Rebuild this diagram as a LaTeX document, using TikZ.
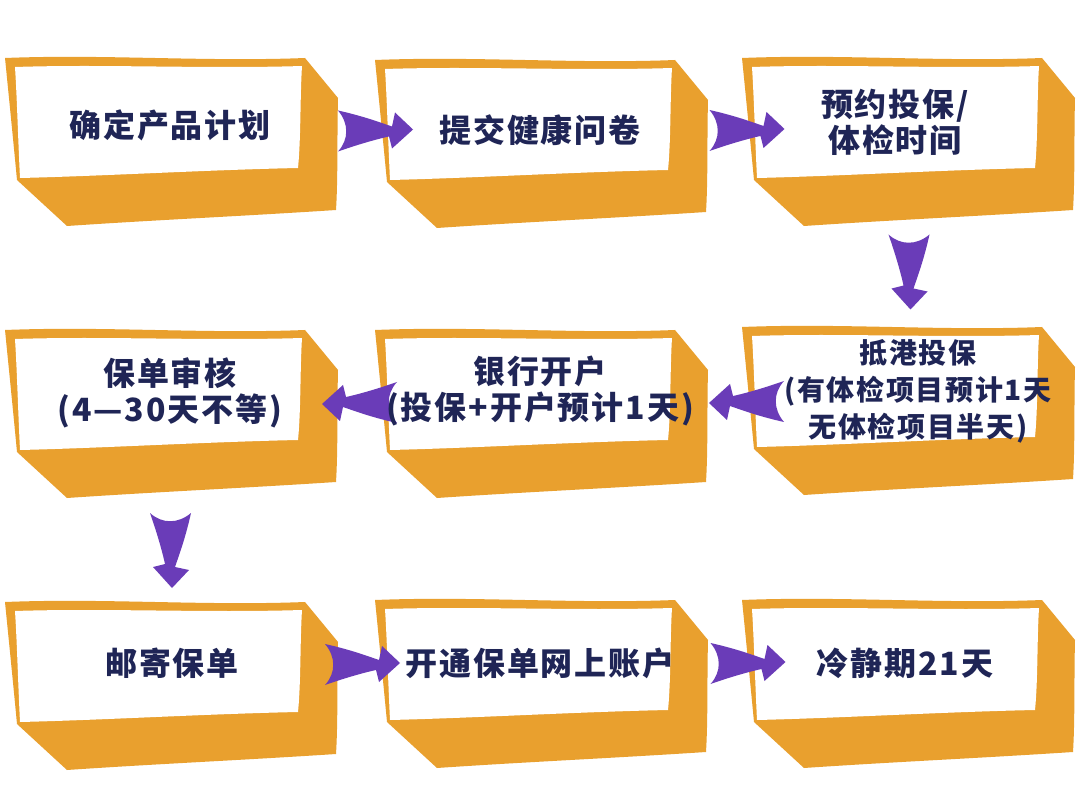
\documentclass[tikz,border=0pt]{standalone}
\usepackage{fontspec}
\newfontfamily\cjk{Noto Sans CJK SC}[LetterSpace=6]
\usetikzlibrary{calc}
\pgfdeclarelayer{back}
\pgfdeclarelayer{mid}
\pgfsetlayers{back,mid,main}
\definecolor{orng}{HTML}{E9A02E}
\definecolor{purp}{HTML}{6A3CB8}
\definecolor{navy}{HTML}{1F2556}
\tikzset{
  boxtext/.style={font=\cjk\bfseries\fontsize{32}{36}\selectfont, text=navy, align=center, inner sep=0pt},
  smalltext/.style={boxtext, font=\cjk\bfseries\fontsize{28}{37}\selectfont},
  cube/.pic={
    \fill[orng] (0,0) .. controls (100,-4) and (200,4) .. (300,0) -- (333,40)
       .. controls (332,80) and (333,120) .. (331,152)
       .. controls (240,158) and (150,162) .. (62,168) -- (12,122)
       .. controls (8,80) and (4,40) .. (0,0) -- cycle;
    \fill[white] (10,9) .. controls (100,6) and (200,11) .. (297,8)
       .. controls (295,40) and (296,80) .. (293,110)
       .. controls (200,112) and (100,118) .. (15,120)
       .. controls (13,80) and (12,40) .. (10,9) -- cycle;
  },
  flow/.pic={
    \fill[purp] (-37,-19) .. controls (-10,-13) and (8,-6) .. (17,-3) -- (20,-17) -- (38,0) -- (17,19) -- (14,7)
       .. controls (0,10) and (-20,16) .. (-37,22)
       .. controls (-26,10) and (-26,-6) .. (-37,-19) -- cycle;
  }
}
\begin{document}
\begin{tikzpicture}[x=1pt,y=-1pt]
\useasboundingbox (0,0) rectangle (1080,810);
% text nodes
\node[boxtext] (b1) at (170,125) {确定产品计划};
\node[boxtext] (b2) at (540,130) {提交健康问卷};
\node[boxtext] (b3) at (895,122) {预约投保/\\体检时间};
\node[boxtext] (b4) at (170,393) {保单审核\\(4—30天不等)};
\node[boxtext] (b5) at (540,391) {银行开户\\(投保+开户预计1天)};
\node[smalltext] (b6) at (918,391) {抵港投保\\(有体检项目预计1天\\无体检项目半天)};
\node[boxtext] (b7) at (172,663) {邮寄保单};
\node[boxtext] (b8) at (540,663) {开通保单网上账户};
\node[boxtext] (b9) at (905,663) {冷静期21天};
% boxes
\begin{pgfonlayer}{back}
\fill[white] (0,0) rectangle (1080,810);
\pic at (5,58) {cube};
\pic at (375,60) {cube};
\pic at (742,58) {cube};
\pic at (5,330) {cube};
\pic at (375,330) {cube};
\pic at (742,327) {cube};
\pic at (5,602) {cube};
\pic at (375,600) {cube};
\pic at (742,600) {cube};
\end{pgfonlayer}
% arrows
\begin{pgfonlayer}{mid}
\pic at ($(b1)!0.5!(b2)+(20,2)$) {flow};
\pic at ($(b2)!0.5!(b3)+(29,3)$) {flow};
\pic[rotate=-90] at ($(b3)!0.5!(b6)+(4,15)$) {flow};
\pic[rotate=180] at ($(b6)!0.5!(b5)+(18,12)$) {flow};
\pic[rotate=180] at ($(b5)!0.5!(b4)+(5,12)$) {flow};
\pic[rotate=-90] at ($(b4)!0.5!(b7)+(1,22)$) {flow};
\pic at ($(b7)!0.5!(b8)+(6,0)$) {flow};
\pic at ($(b8)!0.5!(b9)+(25,-1)$) {flow};
\end{pgfonlayer}
\end{tikzpicture}
\end{document}
